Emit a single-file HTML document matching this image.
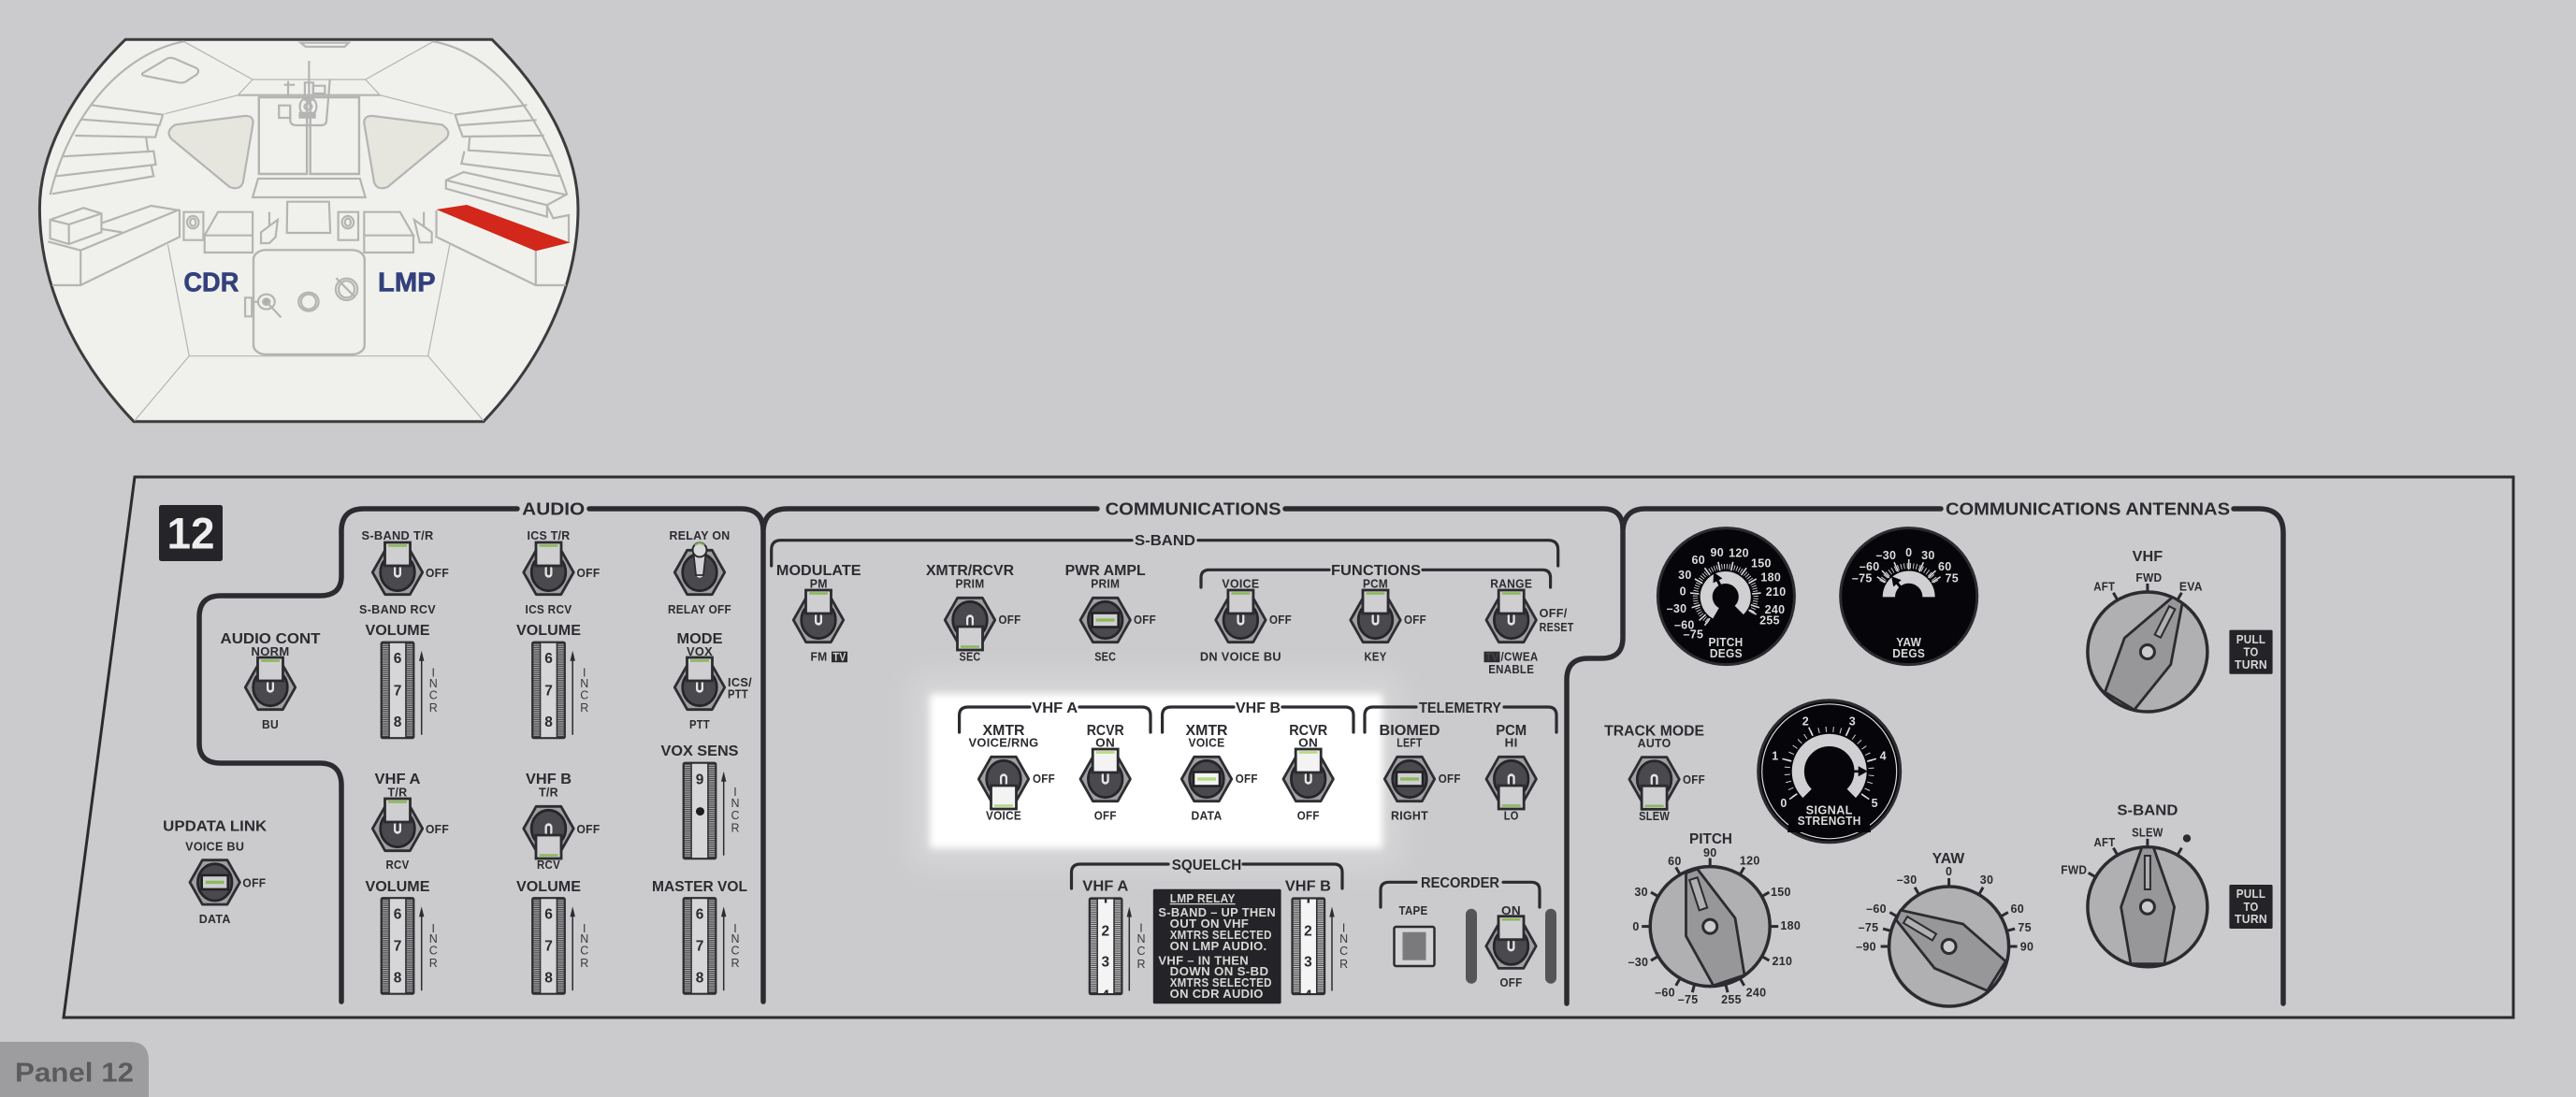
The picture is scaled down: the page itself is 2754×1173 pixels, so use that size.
<!DOCTYPE html>
<html><head><meta charset="utf-8"><title>Panel 12</title>
<style>
html,body{margin:0;padding:0;background:#cbcbcd}
svg{display:block}
text{font-family:"Liberation Sans",sans-serif;font-weight:700;fill:#2b2b30;text-anchor:middle}
.s{font-size:12.5px;letter-spacing:.3px}.l{font-size:15.5px}.h{font-size:18.5px}
.e{text-anchor:start}
.n{font-size:15.5px}
.i{font-size:12.5px;font-weight:400;fill:#3a3a3e}
.w{fill:#dcdcda;font-size:12.5px;letter-spacing:.3px}
.fr{fill:none;stroke:#2b2b30;stroke-width:5.5;stroke-linecap:round;stroke-linejoin:round}
.br{fill:none;stroke:#2b2b30;stroke-width:3.2;stroke-linecap:round;stroke-linejoin:round}
.c path,.c rect,.c ellipse{vector-effect:non-scaling-stroke;fill:none;stroke:#b4b4b4;stroke-width:2.2}
.c .t{stroke-width:1.2}
.k{fill:none;stroke:#2b2b30;stroke-width:3}
</style></head><body>
<svg xmlns="http://www.w3.org/2000/svg" width="2754" height="1173" viewBox="0 0 2754 1173">
<defs>
<filter id="b1" x="-10%" y="-20%" width="120%" height="140%"><feGaussianBlur stdDeviation="4"/></filter>
<filter id="b2" x="-20%" y="-40%" width="140%" height="180%"><feGaussianBlur stdDeviation="16"/></filter>
<clipPath id="cp4"><rect x="1160" y="1050" width="300" height="13"/></clipPath>
<g id="hex"><polygon points="-26.7,0 -13.3,-23.7 13.3,-23.7 26.7,0 13.3,23.7 -13.3,23.7" fill="#a0a0a2" stroke="#2e2e32" stroke-width="2.8" stroke-linejoin="round"/><ellipse rx="18.3" ry="19.7" fill="#4a4a4e" stroke="#26262a" stroke-width="2.8"/></g>
<g id="slot"><rect x="-4" y="-8" width="8" height="13.7" rx="4" fill="#e4e4e4"/><rect x="-1.7" y="-8" width="3.4" height="11" rx="1.7" fill="#3a3a3e"/></g>
<g id="up"><use href="#hex"/><use href="#slot"/><rect x="-13.5" y="-32" width="27" height="25" fill="#cfcfd1" stroke="#2b2b30" stroke-width="2.8"/><rect x="-10" y="-29.8" width="20" height="2.6" fill="#8db85e"/></g>
<g id="upw"><use href="#hex"/><use href="#slot"/><rect x="-13.5" y="-32" width="27" height="25" fill="#f3f3f3" stroke="#2b2b30" stroke-width="2.8"/><rect x="-10" y="-29.8" width="20" height="2.6" fill="#b4da7e"/></g>
<g id="ct"><use href="#hex"/><rect x="-14" y="-7.5" width="28" height="15" fill="#cfcfd1" stroke="#222226" stroke-width="2.6"/><rect x="-10" y="-1.7" width="20" height="3.4" fill="#8db85e"/></g>
<g id="ctw"><use href="#hex"/><rect x="-14" y="-7.5" width="28" height="15" fill="#f3f3f3" stroke="#222226" stroke-width="2.6"/><rect x="-10" y="-1.7" width="20" height="3.4" fill="#b4da7e"/></g>
<g id="lev"><use href="#hex"/><use href="#slot"/><path d="M-6.5-20L-4 3H4L6.5-20Z" fill="#d2d2d4" stroke="#2b2b30" stroke-width="1.8"/><circle cy="-24" r="7.5" fill="#d8d8da" stroke="#2b2b30" stroke-width="2"/><path d="M-5-29Q0-33 5-29" fill="none" stroke="#8db85e" stroke-width="2"/></g>
<g id="wh"><rect x="1" y="1" width="34.6" height="102.5" rx="1.5" fill="#3c3c40" stroke="#2e2e32" stroke-width="2.2"/><path d="M5.4 3V101.5M31.3 3V101.5" stroke="#a8a8aa" stroke-width="6.4" stroke-dasharray="1.2 1" fill="none"/><rect x="9.6" y="1.5" width="17.4" height="101.5" fill="#d6d6d8" stroke="#2e2e32" stroke-width="1.1"/><path d="M44 100V18" stroke="#2b2b30" stroke-width="1.5" fill="none"/><path d="M41.3 21L44 10 46.7 21Z" fill="#2b2b30"/></g>
<g id="wh2"><rect x="1" y="1" width="34.6" height="102.5" rx="1.5" fill="#3c3c40" stroke="#2e2e32" stroke-width="2.2"/><path d="M5.4 3V101.5M31.3 3V101.5" stroke="#c8c8c8" stroke-width="6.4" stroke-dasharray="1.2 1" fill="none"/><rect x="9.6" y="1.5" width="17.4" height="101.5" fill="#f4f4f4" stroke="#2e2e32" stroke-width="1.1"/><path d="M43.5 100V18" stroke="#2b2b30" stroke-width="1.5" fill="none"/><path d="M40.8 21L43.5 10 46.2 21Z" fill="#2b2b30"/><path d="M18.3 2V6" stroke="#2b2b30" stroke-width="2.4"/></g>
<path id="t" d="M0-64V-73" class="k"/>
</defs>

<rect width="2754" height="1173" fill="#cbcbcd"/>

<!-- cabin -->
<path d="M134 42.3H526C590 105 618 170 618 223C618 310 575 390 517 450.7H143C85 390 42.4 310 42.4 223C42.4 170 70 105 134 42.3Z" fill="#f0f1ec" stroke="#3c3c3e" stroke-width="3"/>
<g class="c" transform="scale(.44643 .33333)">
<path d="M440 133C300 170 170 350 120 625"/><path d="M1038 133C1180 170 1290 350 1358 625"/>
<path class="t" d="M440 133L605 255H875L1038 133M605 255L570 305L395 365M875 255L910 305L1085 365"/><path d="M570 305H910"/>
<path d="M345 232L400 188Q408 183 418 188L470 218Q480 228 470 240L445 262Q435 268 425 264L345 243Q335 238 345 232Z"/>
<path d="M720 137H835L825 150H732Z"/>
<path d="M740 195V330"/>
<rect x="620" y="312" width="115" height="246" style="stroke-width:2.4"/><rect x="743" y="312" width="117" height="246" style="stroke-width:2.4"/>
<path d="M695 340V385Q695 402 712 402H768Q782 402 782 385L790 255"/>
<ellipse cx="738" cy="342" rx="20" ry="30"/><ellipse cx="738" cy="342" rx="9" ry="10"/>
<rect x="668" y="338" width="27" height="40"/><rect x="730" y="265" width="20" height="55"/><rect x="750" y="275" width="28" height="25"/>
<rect x="718" y="362" width="36" height="15" style="fill:#b4b4b4"/>
<path d="M690 260V310M680 272H706"/>
<path d="M420 400L585 372Q607 370 606 395L582 585Q575 612 550 600L410 445Q395 420 420 400Z" style="fill:#e6e6df"/>
<path d="M1058 400L893 372Q871 370 872 395L896 585Q903 612 928 600L1068 445Q1083 420 1058 400Z" style="fill:#e6e6df"/>
<path d="M218 337L390 368L382 402L195 383"/><path d="M180 435L372 440L380 402"/><path d="M350 442L355 490M150 502L368 485L373 528L135 565"/><path d="M362 530L368 565L125 622"/>
<path d="M1262 337L1090 368L1098 402L1285 385"/><path d="M1098 402L1108 438L1303 435"/><path d="M1125 440L1122 482L1325 500"/><path d="M1112 485L1105 525L1340 565"/>
<path d="M1110 552L1068 578V605L1310 695V658L1355 625Z"/><path d="M1068 578L1310 658M1310 660L1325 700L1362 690V780"/>
<path d="M1045 675V760L1283 915H1355M1283 805V915"/>
<path d="M120 705L200 667L243 685V745L165 783L120 765Z"/><path d="M120 705L165 720L243 685M165 720V783"/>
<path d="M245 715L362 660L430 675V760L193 915H125M115 775L193 803L430 672M193 803V915M245 735L292 745"/>
<rect x="440" y="680" width="47" height="90"/><ellipse cx="462" cy="713" rx="14" ry="20"/><ellipse cx="462" cy="713" rx="7" ry="12"/>
<rect x="810" y="680" width="48" height="90"/><ellipse cx="833" cy="713" rx="14" ry="20"/><ellipse cx="833" cy="713" rx="7" ry="12"/>
<path d="M490 755L522 680H605V755ZM490 755V810H605V755"/><path d="M872 680H958L990 755H872ZM872 755V810H990V755"/>
<path d="M688 647H788L791 747H687Z"/><path d="M618 573H862L875 633H605Z"/>
<path d="M625 745L665 705L660 760L645 780H625ZM645 680V725"/><path d="M992 705L1034 745V778H1005ZM1015 680V725"/>
<rect x="607" y="802" width="266" height="335" rx="30" style="stroke-width:2.4"/>
<ellipse cx="638" cy="968" rx="20" ry="24"/><ellipse cx="638" cy="968" rx="8" ry="10" style="fill:#aaa"/><path d="M638 968L673 1018"/><rect x="587" y="955" width="16" height="60"/><path d="M603 968H620"/>
<ellipse cx="739" cy="968" rx="24" ry="30"/><ellipse cx="739" cy="968" rx="18" ry="24"/>
<ellipse cx="830" cy="928" rx="26" ry="35"/><ellipse cx="830" cy="928" rx="19" ry="27"/><path d="M805 892L848 950"/>
<path class="t" d="M402 785L453 1142H1025L1077 785M453 1142L322 1350M1025 1142L1158 1350"/>
<path d="M1045 672L1118 657L1365 778L1283 805Z" style="fill:#d2271a;stroke:none"/>
</g>
<text x="225.9" y="311.7" style="font-size:29px;fill:#33407c;stroke:#33407c;stroke-width:.6" textLength="59" lengthAdjust="spacingAndGlyphs">CDR</text>
<text x="434.8" y="311.7" style="font-size:29px;fill:#33407c;stroke:#33407c;stroke-width:.6" textLength="61.6" lengthAdjust="spacingAndGlyphs">LMP</text>

<!-- panel tab -->
<path d="M0 1114H139Q159 1114 159 1134V1173H0Z" fill="#9d9d9f"/>
<text class="e" x="16" y="1156.4" style="font-size:29px;fill:#5b5b5d" textLength="127" lengthAdjust="spacingAndGlyphs">Panel 12</text>

<!-- highlight -->
<rect x="975" y="723" width="522" height="203" fill="#fff" opacity=".22" filter="url(#b2)"/>
<rect x="994" y="742" width="484" height="165" fill="#fff" filter="url(#b1)"/>

<!-- panel outline -->
<path d="M144 510H2687V1088H68Z" fill="none" stroke="#2b2b30" stroke-width="3"/>
<rect x="170" y="540" width="68" height="60" rx="2.5" fill="#252529"/>
<text x="204" y="586.7" style="font-size:47px;fill:#eee" textLength="51" lengthAdjust="spacingAndGlyphs">12</text>

<!-- frames -->
<path class="fr" d="M553 544H389Q365 544 365 568V616Q365 637 342 637H236Q213 637 213 660V795Q213 816 236 816H342Q365 816 365 840V1071"/>
<path class="fr" d="M630 544H792Q816 544 816 568V1071"/>
<path class="fr" d="M816 566Q818 544 842 544H1173M1374 544H1714Q1735 544 1735 566V682Q1735 704 1712 704H1698Q1675 704 1675 727V1073"/>
<path class="fr" d="M1735 566Q1737 544 1759 544H2075M2388 544H2415Q2441 544 2441 570V1073"/>
<text class="h" x="591.7" y="550.7" textLength="67" lengthAdjust="spacingAndGlyphs">AUDIO</text>
<text class="h" x="1275.6" y="550.7" textLength="188" lengthAdjust="spacingAndGlyphs">COMMUNICATIONS</text>
<text class="h" x="2232" y="550.7" textLength="304" lengthAdjust="spacingAndGlyphs">COMMUNICATIONS ANTENNAS</text>

<path class="br" d="M824.7 605V588Q824.7 577.7 835 577.7H1210M1281 577.7H1655Q1665.7 577.7 1665.7 588V605"/>
<text class="l" x="1245.5" y="583" textLength="65" lengthAdjust="spacingAndGlyphs">S-BAND</text>
<path class="br" d="M1284 628V618Q1284 609.3 1293 609.3H1421M1521 609.3H1649Q1657.6 609.3 1657.6 618V628"/>
<text class="l" x="1471" y="615" textLength="96" lengthAdjust="spacingAndGlyphs">FUNCTIONS</text>
<path class="br" d="M1025.6 783V765Q1025.6 756 1035 756H1101M1154 756H1221Q1230 756 1230 765V783"/>
<text class="l" x="1127.7" y="762" textLength="49" lengthAdjust="spacingAndGlyphs">VHF A</text>
<path class="br" d="M1242.6 783V765Q1242.6 756 1252 756H1319M1371 756H1438Q1447 756 1447 765V783"/>
<text class="l" x="1345" y="762" textLength="48" lengthAdjust="spacingAndGlyphs">VHF B</text>
<path class="br" d="M1459 783V765Q1459 756 1468 756H1514M1608 756H1655Q1664 756 1664 765V783"/>
<text class="l" x="1561" y="762" textLength="88" lengthAdjust="spacingAndGlyphs">TELEMETRY</text>
<path class="br" d="M1145.5 950V933Q1145.5 924 1155 924H1249M1329 924H1426Q1435 924 1435 933V950"/>
<text class="l" x="1290" y="930" textLength="74.5" lengthAdjust="spacingAndGlyphs">SQUELCH</text>
<path class="br" d="M1476 970V952Q1476 943.3 1485 943.3H1514M1607 943.3H1637Q1646 943.3 1646 952V970"/>
<text class="l" x="1561" y="949" textLength="84" lengthAdjust="spacingAndGlyphs">RECORDER</text>

<!-- toggles -->
<use href="#up" x="425" y="612"/><use href="#up" x="586.5" y="612"/><use href="#lev" x="748" y="612"/>
<use href="#up" x="289" y="735"/><use href="#up" x="748" y="735"/><use href="#up" x="425" y="886"/>
<use href="#up" transform="translate(586.5 886) rotate(180)"/><use href="#ct" x="229.7" y="943.4"/>
<use href="#up" x="875" y="663"/><use href="#up" transform="translate(1037 663) rotate(180)"/><use href="#ct" x="1181.7" y="663"/>
<use href="#up" x="1326.4" y="663"/><use href="#up" x="1470.5" y="663"/><use href="#up" x="1615.7" y="663"/>
<use href="#upw" transform="translate(1073 833) rotate(180)"/><use href="#upw" x="1181.7" y="833"/><use href="#ctw" x="1290" y="833"/><use href="#upw" x="1398.7" y="833"/>
<use href="#ct" x="1507" y="833"/><use href="#up" transform="translate(1615.7 833) rotate(180)"/>
<use href="#up" x="1615.5" y="1011.7"/><use href="#up" transform="translate(1768.6 833.3) rotate(180)"/>

<!-- thumbwheels -->
<use href="#wh" x="406.7" y="685.7"/><use href="#wh" x="568.2" y="685.7"/><use href="#wh" x="406.7" y="959.2"/><use href="#wh" x="568.2" y="959.2"/><use href="#wh" x="729.7" y="959.2"/><use href="#wh" x="729.7" y="814.7"/><use href="#wh2" x="1163.8" y="959.5"/><use href="#wh2" x="1380.5" y="959.5"/>
<text class="n" x="425" y="708.8">6</text><text class="n" x="425" y="743.5">7</text><text class="n" x="425" y="777">8</text>
<text class="n" x="586.5" y="708.8">6</text><text class="n" x="586.5" y="743.5">7</text><text class="n" x="586.5" y="777">8</text>
<text class="n" x="425" y="982.5">6</text><text class="n" x="425" y="1016.5">7</text><text class="n" x="425" y="1050.5">8</text>
<text class="n" x="586.5" y="982.5">6</text><text class="n" x="586.5" y="1016.5">7</text><text class="n" x="586.5" y="1050.5">8</text>
<text class="n" x="748" y="982.5">6</text><text class="n" x="748" y="1016.5">7</text><text class="n" x="748" y="1050.5">8</text>
<text class="n" x="748" y="838.3">9</text><circle cx="748.5" cy="867.6" r="4.5" fill="#1d1d20"/>
<text class="n" x="1181.8" y="1000.3">2</text><text class="n" x="1181.8" y="1033.5">3</text>
<text class="n" x="1398.4" y="1000.3">2</text><text class="n" x="1398.4" y="1033.5">3</text>
<g clip-path="url(#cp4)"><text class="n" x="1181.8" y="1069.5">4</text><text class="n" x="1398.4" y="1069.5">4</text></g>
<text class="i" x="463.3 463.3 463.3 463.3" y="723.3 735 747.5 761">INCR</text><text class="i" x="624.8 624.8 624.8 624.8" y="723.3 735 747.5 761">INCR</text>
<text class="i" x="463.3 463.3 463.3 463.3" y="997 1008 1020.5 1034">INCR</text><text class="i" x="624.8 624.8 624.8 624.8" y="997 1008 1020.5 1034">INCR</text><text class="i" x="786 786 786 786" y="997 1008 1020.5 1034">INCR</text>
<text class="i" x="786 786 786 786" y="851 863 876 889.5">INCR</text>
<text class="i" x="1220 1220 1220 1220" y="996.7 1008 1021 1035">INCR</text><text class="i" x="1436.6 1436.6 1436.6 1436.6" y="996.7 1008 1021 1035">INCR</text>

<!-- audio labels -->
<text class="s" x="425" y="577" textLength="77" lengthAdjust="spacingAndGlyphs">S-BAND T/R</text>
<text class="s e" x="455" y="617" textLength="25" lengthAdjust="spacingAndGlyphs">OFF</text>
<text class="s" x="425" y="656" textLength="82" lengthAdjust="spacingAndGlyphs">S-BAND RCV</text>
<text class="l" x="425" y="679" textLength="69" lengthAdjust="spacingAndGlyphs">VOLUME</text>
<text class="s" x="586.5" y="577" textLength="46" lengthAdjust="spacingAndGlyphs">ICS T/R</text>
<text class="s e" x="616.5" y="617" textLength="25" lengthAdjust="spacingAndGlyphs">OFF</text>
<text class="s" x="586.5" y="656" textLength="50" lengthAdjust="spacingAndGlyphs">ICS RCV</text>
<text class="l" x="586.5" y="679" textLength="69" lengthAdjust="spacingAndGlyphs">VOLUME</text>
<text class="s" x="748" y="577" textLength="65" lengthAdjust="spacingAndGlyphs">RELAY ON</text>
<text class="s" x="748" y="656" textLength="68" lengthAdjust="spacingAndGlyphs">RELAY OFF</text>
<text class="l" x="289" y="688" textLength="107" lengthAdjust="spacingAndGlyphs">AUDIO CONT</text>
<text class="s" x="289" y="701" textLength="41" lengthAdjust="spacingAndGlyphs">NORM</text>
<text class="s" x="289" y="779" textLength="18" lengthAdjust="spacingAndGlyphs">BU</text>
<text class="l" x="748" y="688" textLength="49" lengthAdjust="spacingAndGlyphs">MODE</text>
<text class="s" x="748" y="701" textLength="28" lengthAdjust="spacingAndGlyphs">VOX</text>
<text class="s e" x="778" y="734" textLength="26" lengthAdjust="spacingAndGlyphs">ICS/</text>
<text class="s e" x="778" y="746.5" textLength="22" lengthAdjust="spacingAndGlyphs">PTT</text>
<text class="s" x="748" y="779" textLength="22" lengthAdjust="spacingAndGlyphs">PTT</text>
<text class="l" x="748" y="808" textLength="83" lengthAdjust="spacingAndGlyphs">VOX SENS</text>
<text class="l" x="425" y="838" textLength="49" lengthAdjust="spacingAndGlyphs">VHF A</text>
<text class="s" x="425" y="851.5" textLength="21" lengthAdjust="spacingAndGlyphs">T/R</text>
<text class="s e" x="455" y="891" textLength="25" lengthAdjust="spacingAndGlyphs">OFF</text>
<text class="s" x="425" y="929" textLength="25" lengthAdjust="spacingAndGlyphs">RCV</text>
<text class="l" x="425" y="953" textLength="69" lengthAdjust="spacingAndGlyphs">VOLUME</text>
<text class="l" x="586.5" y="838" textLength="49" lengthAdjust="spacingAndGlyphs">VHF B</text>
<text class="s" x="586.5" y="851.5" textLength="21" lengthAdjust="spacingAndGlyphs">T/R</text>
<text class="s e" x="616.5" y="891" textLength="25" lengthAdjust="spacingAndGlyphs">OFF</text>
<text class="s" x="586.5" y="929" textLength="25" lengthAdjust="spacingAndGlyphs">RCV</text>
<text class="l" x="586.5" y="953" textLength="69" lengthAdjust="spacingAndGlyphs">VOLUME</text>
<text class="l" x="748" y="953" textLength="102" lengthAdjust="spacingAndGlyphs">MASTER VOL</text>
<text class="l" x="229.7" y="888.5" textLength="111" lengthAdjust="spacingAndGlyphs">UPDATA LINK</text>
<text class="s" x="229.7" y="909.5" textLength="63" lengthAdjust="spacingAndGlyphs">VOICE BU</text>
<text class="s e" x="259.4" y="948.6" textLength="25" lengthAdjust="spacingAndGlyphs">OFF</text>
<text class="s" x="229.7" y="987" textLength="34" lengthAdjust="spacingAndGlyphs">DATA</text>

<!-- s-band labels -->
<text class="l" x="875.3" y="615" textLength="90.7" lengthAdjust="spacingAndGlyphs">MODULATE</text>
<text class="s" x="875.3" y="628.7" textLength="19" lengthAdjust="spacingAndGlyphs">PM</text>
<text class="s" x="875.5" y="706.7" textLength="18" lengthAdjust="spacingAndGlyphs">FM</text>
<rect x="889" y="696.7" width="17" height="11.5" fill="#2b2b30"/><text class="s" x="897.5" y="706.5" style="fill:#d8d8d8;font-size:11.5px" textLength="14" lengthAdjust="spacingAndGlyphs">TV</text>
<text class="l" x="1037" y="615" textLength="94" lengthAdjust="spacingAndGlyphs">XMTR/RCVR</text>
<text class="s" x="1037" y="628.7" textLength="31" lengthAdjust="spacingAndGlyphs">PRIM</text>
<text class="s e" x="1067.5" y="667" textLength="24" lengthAdjust="spacingAndGlyphs">OFF</text>
<text class="s" x="1037" y="706.7" textLength="23" lengthAdjust="spacingAndGlyphs">SEC</text>
<text class="l" x="1181.7" y="615" textLength="86" lengthAdjust="spacingAndGlyphs">PWR AMPL</text>
<text class="s" x="1181.7" y="628.7" textLength="31" lengthAdjust="spacingAndGlyphs">PRIM</text>
<text class="s e" x="1212" y="667" textLength="24" lengthAdjust="spacingAndGlyphs">OFF</text>
<text class="s" x="1181.7" y="706.7" textLength="23" lengthAdjust="spacingAndGlyphs">SEC</text>
<text class="s" x="1326.4" y="628.7" textLength="40" lengthAdjust="spacingAndGlyphs">VOICE</text>
<text class="s e" x="1357" y="667" textLength="24" lengthAdjust="spacingAndGlyphs">OFF</text>
<text class="s" x="1326.4" y="706.7" textLength="87" lengthAdjust="spacingAndGlyphs">DN VOICE BU</text>
<text class="s" x="1470.5" y="628.7" textLength="27" lengthAdjust="spacingAndGlyphs">PCM</text>
<text class="s e" x="1501" y="667" textLength="24" lengthAdjust="spacingAndGlyphs">OFF</text>
<text class="s" x="1470.5" y="706.7" textLength="24" lengthAdjust="spacingAndGlyphs">KEY</text>
<text class="s" x="1615.7" y="628.7" textLength="45" lengthAdjust="spacingAndGlyphs">RANGE</text>
<text class="s e" x="1645.6" y="660" textLength="30" lengthAdjust="spacingAndGlyphs">OFF/</text>
<text class="s e" x="1645.6" y="675" textLength="37" lengthAdjust="spacingAndGlyphs">RESET</text>
<rect x="1586.5" y="696.7" width="17" height="11.5" fill="#2b2b30"/><text class="s" x="1595" y="706.5" style="fill:#444;font-size:11.5px" textLength="14" lengthAdjust="spacingAndGlyphs">TV</text>
<text class="s e" x="1604.5" y="706.7" textLength="40" lengthAdjust="spacingAndGlyphs">/CWEA</text>
<text class="s" x="1615.7" y="720" textLength="49" lengthAdjust="spacingAndGlyphs">ENABLE</text>

<!-- vhf / telemetry labels -->
<text class="l" x="1073" y="786" textLength="45" lengthAdjust="spacingAndGlyphs">XMTR</text>
<text class="s" x="1073" y="798.7" textLength="75" lengthAdjust="spacingAndGlyphs">VOICE/RNG</text>
<text class="s e" x="1104" y="837" textLength="24" lengthAdjust="spacingAndGlyphs">OFF</text>
<text class="s" x="1073" y="876.7" textLength="38" lengthAdjust="spacingAndGlyphs">VOICE</text>
<text class="l" x="1181.7" y="786" textLength="40" lengthAdjust="spacingAndGlyphs">RCVR</text>
<text class="s" x="1181.7" y="798.7" textLength="21" lengthAdjust="spacingAndGlyphs">ON</text>
<text class="s" x="1181.7" y="876.7" textLength="24" lengthAdjust="spacingAndGlyphs">OFF</text>
<text class="l" x="1290" y="786" textLength="45" lengthAdjust="spacingAndGlyphs">XMTR</text>
<text class="s" x="1290" y="798.7" textLength="39" lengthAdjust="spacingAndGlyphs">VOICE</text>
<text class="s e" x="1320.7" y="837" textLength="24" lengthAdjust="spacingAndGlyphs">OFF</text>
<text class="s" x="1290" y="876.7" textLength="33" lengthAdjust="spacingAndGlyphs">DATA</text>
<text class="l" x="1398.7" y="786" textLength="41" lengthAdjust="spacingAndGlyphs">RCVR</text>
<text class="s" x="1398.7" y="798.7" textLength="21" lengthAdjust="spacingAndGlyphs">ON</text>
<text class="s" x="1398.7" y="876.7" textLength="24" lengthAdjust="spacingAndGlyphs">OFF</text>
<text class="l" x="1507" y="786" textLength="65" lengthAdjust="spacingAndGlyphs">BIOMED</text>
<text class="s" x="1507" y="798.7" textLength="27.5" lengthAdjust="spacingAndGlyphs">LEFT</text>
<text class="s e" x="1537.7" y="837" textLength="24" lengthAdjust="spacingAndGlyphs">OFF</text>
<text class="s" x="1507" y="876.7" textLength="40" lengthAdjust="spacingAndGlyphs">RIGHT</text>
<text class="l" x="1615.7" y="786" textLength="33" lengthAdjust="spacingAndGlyphs">PCM</text>
<text class="s" x="1615.7" y="798.7" textLength="14" lengthAdjust="spacingAndGlyphs">HI</text>
<text class="s" x="1615.7" y="876.7" textLength="16" lengthAdjust="spacingAndGlyphs">LO</text>

<!-- squelch / recorder -->
<text class="l" x="1181.8" y="952.7" textLength="49" lengthAdjust="spacingAndGlyphs">VHF A</text>
<text class="l" x="1398.4" y="952.7" textLength="49" lengthAdjust="spacingAndGlyphs">VHF B</text>
<rect x="1232.8" y="950.7" width="136.8" height="122.6" rx="1.5" fill="#242428"/>
<text class="s e" x="1250.7" y="965" style="fill:#d8d8d4;text-decoration:underline" textLength="70" lengthAdjust="spacingAndGlyphs">LMP RELAY</text>
<text class="s e" x="1238.4" y="980" style="fill:#d8d8d4" textLength="125.6" lengthAdjust="spacingAndGlyphs">S-BAND – UP THEN</text>
<text class="s e" x="1250.7" y="992" style="fill:#d8d8d4" textLength="84.5" lengthAdjust="spacingAndGlyphs">OUT ON VHF</text>
<text class="s e" x="1250.7" y="1004" style="fill:#d8d8d4" textLength="109" lengthAdjust="spacingAndGlyphs">XMTRS SELECTED</text>
<text class="s e" x="1250.7" y="1016" style="fill:#d8d8d4" textLength="103.8" lengthAdjust="spacingAndGlyphs">ON LMP AUDIO.</text>
<text class="s e" x="1238.4" y="1031.3" style="fill:#d8d8d4" textLength="96.6" lengthAdjust="spacingAndGlyphs">VHF – IN THEN</text>
<text class="s e" x="1250.7" y="1043" style="fill:#d8d8d4" textLength="105.7" lengthAdjust="spacingAndGlyphs">DOWN ON S-BD</text>
<text class="s e" x="1250.7" y="1055" style="fill:#d8d8d4" textLength="109" lengthAdjust="spacingAndGlyphs">XMTRS SELECTED</text>
<text class="s e" x="1250.7" y="1067" style="fill:#d8d8d4" textLength="100" lengthAdjust="spacingAndGlyphs">ON CDR AUDIO</text>
<text class="s" x="1511" y="978" textLength="31" lengthAdjust="spacingAndGlyphs">TAPE</text>
<rect x="1490.5" y="991" width="43" height="42" rx="2" fill="#d4d4d6" stroke="#2b2b30" stroke-width="2.5"/><rect x="1499.5" y="996.7" width="25" height="30" fill="#7a7a7c"/>
<rect x="1567" y="971.7" width="12" height="80" rx="6" fill="#555558"/><rect x="1652" y="971.7" width="12" height="80" rx="6" fill="#555558"/>
<text class="s" x="1615.5" y="978" textLength="21" lengthAdjust="spacingAndGlyphs">ON</text>
<text class="s" x="1615.5" y="1055" textLength="24" lengthAdjust="spacingAndGlyphs">OFF</text>

<!-- pitch degs dial -->
<circle cx="1845.4" cy="637.6" r="73" fill="#05050a" stroke="#2c2c30" stroke-width="3"/>
<circle cx="1844.8" cy="638" r="32.3" fill="none" stroke="#d9d9d9" stroke-width="5.5" pathLength="360" stroke-dasharray="1.6 3.2" transform="rotate(-6.5 1844.8 638)"/>
<polygon points="1844.8,638 1882.8,662 1874.8,688 1819.8,688 1819.8,675" fill="#05050a"/>
<g transform="translate(1844.8 638)" stroke="#d9d9d9" stroke-width="1.6">
<path d="M0-28.5V-38" transform="rotate(-12)"/><path d="M0-28.5V-38" transform="rotate(12)"/><path d="M0-28.5V-38" transform="rotate(36)"/><path d="M0-28.5V-38" transform="rotate(60)"/><path d="M0-28.5V-38" transform="rotate(84)"/><path d="M0-28.5V-38" transform="rotate(108)"/><path d="M0-28.5V-38" transform="rotate(120)"/><path d="M0-28.5V-38" transform="rotate(-36)"/><path d="M0-28.5V-38" transform="rotate(-60)"/><path d="M0-28.5V-38" transform="rotate(-84)"/><path d="M0-28.5V-38" transform="rotate(-108)"/><path d="M0-28.5V-38" transform="rotate(-132)"/><path d="M0-28.5V-38" transform="rotate(-144)"/>
</g>
<path d="M1834.5 655.8A20.5 20.5 0 1 1 1859.3 652.5" fill="none" stroke="#d0d0d2" stroke-width="13"/>
<path d="M-1.5 0V-19H-5.5L0-29 5.5-19H1.5V0Z" transform="translate(1844.8 638) rotate(-26)" fill="#05050a"/>
<text class="w" x="1815.7" y="603">60</text><text class="w" x="1835.7" y="595">90</text><text class="w" x="1859" y="595.7">120</text><text class="w" x="1882.9" y="606.7">150</text><text class="w" x="1893.2" y="621.7">180</text><text class="w" x="1898.6" y="637.1">210</text><text class="w" x="1897.5" y="656">240</text><text class="w" x="1892" y="667.7">255</text><text class="w" x="1801.4" y="619">30</text><text class="w" x="1799.3" y="636.3">0</text><text class="w" x="1792.5" y="654.9">–30</text><text class="w" x="1800.7" y="672.7">–60</text><text class="w" x="1810.4" y="682.7">–75</text>
<text class="w" x="1845" y="691" textLength="37" lengthAdjust="spacingAndGlyphs">PITCH</text><text class="w" x="1845.4" y="703" textLength="35" lengthAdjust="spacingAndGlyphs">DEGS</text>

<!-- yaw degs dial -->
<circle cx="2040.7" cy="637.6" r="73" fill="#05050a" stroke="#2c2c30" stroke-width="3"/>
<circle cx="2040.7" cy="638" r="33" fill="none" stroke="#d9d9d9" stroke-width="6" pathLength="360" stroke-dasharray="1.6 4.15" transform="rotate(2 2040.7 638)"/>
<polygon points="2040.7,638 2081,617 2092,690 1990,690 2000.4,617" fill="#05050a"/>
<g transform="translate(2040.7 638)" stroke="#d9d9d9" stroke-width="1.6">
<path d="M0-29V-40"/><path d="M0-29V-40" transform="rotate(23)"/><path d="M0-29V-40" transform="rotate(-23)"/><path d="M0-29V-40" transform="rotate(46)"/><path d="M0-29V-40" transform="rotate(-46)"/><path d="M0-29V-40" transform="rotate(58)"/><path d="M0-29V-40" transform="rotate(-58)"/>
</g>
<path d="M2019.4 638.4A21.3 21.3 0 0 1 2062 638.4" fill="none" stroke="#d0d0d2" stroke-width="13.3"/>
<path d="M-1.5 0V-19H-5.5L0-29 5.5-19H1.5V0Z" transform="translate(2040.7 638.4) rotate(-40)" fill="#05050a"/>
<text class="w" x="2016.4" y="598">–30</text><text class="w" x="2040.7" y="595">0</text><text class="w" x="2061.4" y="598">30</text><text class="w" x="1998.6" y="610">–60</text><text class="w" x="2079.3" y="610">60</text><text class="w" x="1990.7" y="622.3">–75</text><text class="w" x="2086.8" y="622.3">75</text>
<text class="w" x="2040.7" y="691" textLength="27" lengthAdjust="spacingAndGlyphs">YAW</text><text class="w" x="2040.7" y="703" textLength="35" lengthAdjust="spacingAndGlyphs">DEGS</text>

<!-- signal strength -->
<circle cx="1955.7" cy="824.8" r="76" fill="#05050a" stroke="#2c2c30" stroke-width="3"/>
<circle cx="1955.7" cy="824.8" r="72" fill="none" stroke="#d8d8d8" stroke-width="1.2"/>
<circle cx="1955.7" cy="824.8" r="45" fill="none" stroke="#d9d9d9" stroke-width="6" pathLength="360" stroke-dasharray="1.2 8.8" transform="rotate(5 1955.7 824.8)"/>
<polygon points="1955.7,824.8 1995.7,854.8 2000,890 1911,890 1915.7,854.8" fill="#05050a"/>
<g transform="translate(1955.7 824.8)" stroke="#d9d9d9" stroke-width="1.6">
<path d="M0-42V-52" transform="rotate(25)"/><path d="M0-42V-52" transform="rotate(-25)"/><path d="M0-42V-52" transform="rotate(75)"/><path d="M0-42V-52" transform="rotate(-75)"/><path d="M0-42V-52" transform="rotate(125)"/><path d="M0-42V-52" transform="rotate(-125)"/>
</g>
<path d="M1932.1 848.4A33.4 33.4 0 1 1 1979.3 848.4" fill="none" stroke="#d0d0d2" stroke-width="13.2"/>
<path d="M-1.3-26V-31H-5.5L0-41 5.5-31H1.3V-26Z" transform="translate(1955.7 824.8) rotate(90)" fill="#05050a"/>
<text class="w" x="1907" y="863">0</text><text class="w" x="1897.9" y="812.6">1</text><text class="w" x="1930.4" y="775.4">2</text><text class="w" x="1980.4" y="775.4">3</text><text class="w" x="2013.2" y="812.6">4</text><text class="w" x="2004.3" y="863">5</text>
<text class="w" x="1955.7" y="870.6" textLength="50" lengthAdjust="spacingAndGlyphs">SIGNAL</text><text class="w" x="1955.7" y="882" textLength="68" lengthAdjust="spacingAndGlyphs">STRENGTH</text>

<!-- track mode -->
<text class="l" x="1768.6" y="786.4" textLength="107" lengthAdjust="spacingAndGlyphs">TRACK MODE</text>
<text class="s" x="1768.6" y="799" textLength="36" lengthAdjust="spacingAndGlyphs">AUTO</text>
<text class="s e" x="1799" y="837.8" textLength="24" lengthAdjust="spacingAndGlyphs">OFF</text>
<text class="s" x="1768.6" y="877" textLength="33" lengthAdjust="spacingAndGlyphs">SLEW</text>

<!-- pitch knob -->
<g transform="translate(1828.2 990.6)">
<use href="#t"/><use href="#t" transform="rotate(30)"/><use href="#t" transform="rotate(60)"/><use href="#t" transform="rotate(90)"/><use href="#t" transform="rotate(120)"/><use href="#t" transform="rotate(150)"/><use href="#t" transform="rotate(165)"/><use href="#t" transform="rotate(-30)"/><use href="#t" transform="rotate(-60)"/><use href="#t" transform="rotate(-90)"/><use href="#t" transform="rotate(-120)"/><use href="#t" transform="rotate(-150)"/><use href="#t" transform="rotate(-165)"/>
<circle r="64" fill="#b0b0b2" stroke="#2b2b30" stroke-width="3.5"/>
</g>
<polygon points="1802.5,933.6 1814.6,929.1 1855,981.7 1865,1042.7 1831.8,1053.8 1802.5,1000.9" fill="#979799" stroke="#2b2b30" stroke-width="2.8" stroke-linejoin="round"/>
<rect x="-4.5" y="-17" width="9" height="34" fill="#b0b0b2" stroke="#2b2b30" stroke-width="2" transform="translate(1815.7 955.8) rotate(-18)"/>
<circle cx="1828.2" cy="990.6" r="7.5" fill="#cbcbcd" stroke="#2b2b30" stroke-width="3"/>
<text class="l" x="1829" y="902" textLength="46" lengthAdjust="spacingAndGlyphs">PITCH</text>
<text class="s" x="1828.2" y="916.2">90</text><text class="s" x="1790.4" y="925.1">60</text><text class="s" x="1870.7" y="924.3">120</text><text class="s" x="1754.6" y="958">30</text><text class="s" x="1903.9" y="958">150</text><text class="s" x="1749" y="995">0</text><text class="s" x="1914.3" y="994.2">180</text><text class="s" x="1751.4" y="1033.1">–30</text><text class="s" x="1905.4" y="1032">210</text><text class="s" x="1780" y="1065.3">–60</text><text class="s" x="1804.6" y="1073">–75</text><text class="s" x="1851" y="1073">255</text><text class="s" x="1877.5" y="1065.3">240</text>

<!-- yaw knob -->
<g transform="translate(2083.6 1012)">
<use href="#t"/><use href="#t" transform="rotate(30)"/><use href="#t" transform="rotate(60)"/><use href="#t" transform="rotate(75)"/><use href="#t" transform="rotate(90)"/><use href="#t" transform="rotate(-30)"/><use href="#t" transform="rotate(-60)"/><use href="#t" transform="rotate(-75)"/><use href="#t" transform="rotate(-90)"/>
<circle r="64" fill="#b0b0b2" stroke="#2b2b30" stroke-width="3.5"/>
</g>
<polygon points="2031.8,973.2 2098.6,988 2144.3,1027.9 2124.6,1059.4 2068.2,1035.3 2027.1,983.6" fill="#979799" stroke="#2b2b30" stroke-width="2.8" stroke-linejoin="round"/>
<rect x="-4" y="-18" width="8" height="36" fill="#b0b0b2" stroke="#2b2b30" stroke-width="2" transform="translate(2052.5 992.8) rotate(-59)"/>
<circle cx="2083.6" cy="1012" r="7.5" fill="#cbcbcd" stroke="#2b2b30" stroke-width="3"/>
<text class="l" x="2082.9" y="923.2" textLength="34.6" lengthAdjust="spacingAndGlyphs">YAW</text>
<text class="s" x="2083.6" y="936.1">0</text><text class="s" x="2038.6" y="945">–30</text><text class="s" x="2124" y="945">30</text><text class="s" x="2006" y="976.1">–60</text><text class="s" x="2156.8" y="976.1">60</text><text class="s" x="1997.5" y="996.1">–75</text><text class="s" x="2164.6" y="996.1">75</text><text class="s" x="1995" y="1016.4">–90</text><text class="s" x="2167" y="1016.4">90</text>

<!-- vhf knob -->
<g transform="translate(2295.9 697)">
<use href="#t"/><use href="#t" transform="rotate(30)"/><use href="#t" transform="rotate(-30)"/>
<circle r="64" fill="#b0b0b2" stroke="#2b2b30" stroke-width="3.5"/>
</g>
<polygon points="2322.7,638.5 2333.1,645 2320.8,710.5 2281.7,759 2250.4,740.1 2271.3,682.2" fill="#979799" stroke="#2b2b30" stroke-width="2.8" stroke-linejoin="round"/>
<rect x="-3.5" y="-17" width="7" height="34" fill="#b0b0b2" stroke="#2b2b30" stroke-width="2" transform="translate(2314.5 665) rotate(27)"/>
<circle cx="2295.9" cy="697" r="7.5" fill="#cbcbcd" stroke="#2b2b30" stroke-width="3"/>
<text class="l" x="2295.9" y="600" textLength="32.4" lengthAdjust="spacingAndGlyphs">VHF</text>
<text class="s" x="2297.4" y="622" textLength="28" lengthAdjust="spacingAndGlyphs">FWD</text><text class="s" x="2249.7" y="631.4" textLength="23" lengthAdjust="spacingAndGlyphs">AFT</text><text class="s" x="2342.4" y="631.4" textLength="25" lengthAdjust="spacingAndGlyphs">EVA</text>
<rect x="2383.4" y="673.6" width="46.2" height="47.2" rx="1.5" fill="#242428"/>
<text class="s" x="2406.5" y="687.8" style="fill:#d8d8d6" textLength="31.6" lengthAdjust="spacingAndGlyphs">PULL</text><text class="s" x="2406.5" y="701.5" style="fill:#d8d8d6" textLength="16" lengthAdjust="spacingAndGlyphs">TO</text><text class="s" x="2406.5" y="715" style="fill:#d8d8d6" textLength="35" lengthAdjust="spacingAndGlyphs">TURN</text>

<!-- s-band knob -->
<g transform="translate(2295.9 969.8)">
<use href="#t"/><use href="#t" transform="rotate(30)"/><use href="#t" transform="rotate(-30)"/><use href="#t" transform="rotate(-60)"/>
<circle r="64" fill="#b0b0b2" stroke="#2b2b30" stroke-width="3.5"/>
</g>
<polygon points="2289.9,906 2302.2,906 2324.6,969.8 2313.8,1030.7 2278,1030.7 2267.6,969.8" fill="#979799" stroke="#2b2b30" stroke-width="2.8" stroke-linejoin="round"/>
<rect x="-3" y="-18" width="6" height="36" fill="#b0b0b2" stroke="#2b2b30" stroke-width="2" transform="translate(2295.9 933)"/>
<circle cx="2295.9" cy="969.8" r="7.5" fill="#cbcbcd" stroke="#2b2b30" stroke-width="3"/>
<text class="l" x="2295.9" y="871.6" textLength="65" lengthAdjust="spacingAndGlyphs">S-BAND</text>
<text class="s" x="2295.9" y="894.5" textLength="33.5" lengthAdjust="spacingAndGlyphs">SLEW</text><text class="s" x="2250" y="904.8" textLength="23" lengthAdjust="spacingAndGlyphs">AFT</text><text class="s" x="2217.3" y="934.4" textLength="28" lengthAdjust="spacingAndGlyphs">FWD</text>
<circle cx="2338" cy="896.4" r="4.2" fill="#2b2b30"/>
<rect x="2383.4" y="946" width="46.2" height="47" rx="1.5" fill="#242428"/>
<text class="s" x="2406.5" y="960" style="fill:#d8d8d6" textLength="31.6" lengthAdjust="spacingAndGlyphs">PULL</text><text class="s" x="2406.5" y="974" style="fill:#d8d8d6" textLength="16" lengthAdjust="spacingAndGlyphs">TO</text><text class="s" x="2406.5" y="987" style="fill:#d8d8d6" textLength="35" lengthAdjust="spacingAndGlyphs">TURN</text>
</svg>
</body></html>
